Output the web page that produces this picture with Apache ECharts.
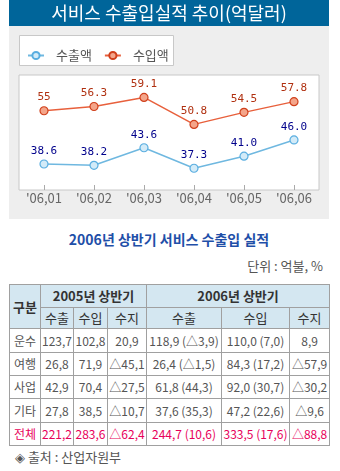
<!DOCTYPE html>
<html>
<head>
<meta charset="utf-8">
<script src="https://cdn.jsdelivr.net/npm/echarts@6/dist/echarts.min.js"></script>
<style>
html,body{margin:0;padding:0;background:#fff;width:340px;height:471px;overflow:hidden;font-family:"Noto Sans CJK KR","Noto Sans",sans-serif;}
#chart{position:absolute;left:0;top:0;width:340px;height:220px;}
#sub{position:absolute;left:0;top:229px;width:338px;text-align:center;font-size:14px;font-weight:bold;color:#1f4fa8;line-height:20px;}
#unit{position:absolute;right:17px;top:257px;font-size:13px;color:#555;line-height:18px;}
table{position:absolute;left:9px;top:284px;width:320px;border-collapse:collapse;table-layout:fixed;font-size:12px;color:#555;}
td,th{border:1px solid #a0a0a0;padding:0;text-align:center;white-space:nowrap;overflow:hidden;line-height:16px;}
th{background:#d4e7f1;color:#333;font-weight:normal;font-size:13px;}
th.b{font-weight:bold;}
tr.tot td{color:#e8005a;}
#src{position:absolute;left:15px;top:448px;font-size:13px;color:#555;line-height:18px;}
</style>
</head>
<body>
<div id="chart"></div>
<div id="sub"></div>
<div id="unit"></div>
<table id="tbl"></table>
<div id="src"></div>
<script>
var chartTitle = '서비스 수출입실적 추이(억달러)';
var categories = ["'06,01", "'06,02", "'06,03", "'06,04", "'06,05", "'06,06"];
var seriesNames = ['수출액', '수입액'];
var exportVals = [38.6, 38.2, 43.6, 37.3, 41.0, 46.0];
var importVals = [55, 56.3, 59.1, 50.8, 54.5, 57.8];
var exportLabels = ['38.6', '38.2', '43.6', '37.3', '41.0', '46.0'];
var importLabels = ['55', '56.3', '59.1', '50.8', '54.5', '57.8'];

var tableTitle = '2006년 상반기 서비스 수출입 실적';
var unitText = '단위 : 억불, %';
var sourceText = '◈ 출처 : 산업자원부';
var headGroup = ['구분', '2005년 상반기', '2006년 상반기'];
var headCols = ['수출', '수입', '수지', '수출', '수입', '수지'];
var rowNames = ['운수', '여행', '사업', '기타', '전체'];
var exp2005 = ['123,7', '26,8', '42,9', '27,8', '221,2'];
var imp2005 = ['102,8', '71,9', '70,4', '38,5', '283,6'];
var bal2005 = ['20,9', '△45,1', '△27,5', '△10,7', '△62,4'];
var exp2006 = ['118,9 (△3,9)', '26,4 (△1,5)', '61,8 (44,3)', '37,6 (35,3)', '244,7 (10,6)'];
var imp2006 = ['110,0 (7,0)', '84,3 (17,2)', '92,0 (30,7)', '47,2 (22,6)', '333,5 (17,6)'];
var bal2006 = ['8,9', '△57,9', '△30,2', '△9,6', '△88,8'];

document.getElementById('sub').textContent = tableTitle;
document.getElementById('unit').textContent = unitText;
document.getElementById('src').textContent = sourceText;

var colW = [31, 33, 34, 39, 75, 68, 40];
var rowH = [23, 21, 24, 23, 23, 24, 23];
var html = '<colgroup>' + colW.map(function(w){return '<col style="width:' + w + 'px">';}).join('') + '</colgroup>';
html += '<tr style="height:' + rowH[0] + 'px"><th class="b" rowspan="2">' + headGroup[0] + '</th><th class="b" colspan="3">' + headGroup[1] + '</th><th class="b" colspan="3">' + headGroup[2] + '</th></tr>';
html += '<tr style="height:' + rowH[1] + 'px">' + headCols.map(function(c){return '<th>' + c + '</th>';}).join('') + '</tr>';
for (var i = 0; i < rowNames.length; i++) {
  html += '<tr' + (i === rowNames.length - 1 ? ' class="tot"' : '') + ' style="height:' + rowH[i + 2] + 'px"><td>' + rowNames[i] + '</td><td>' + exp2005[i] + '</td><td>' + imp2005[i] + '</td><td>' + bal2005[i] + '</td><td>' + exp2006[i] + '</td><td>' + imp2006[i] + '</td><td>' + bal2006[i] + '</td></tr>';
}
document.getElementById('tbl').innerHTML = html;

var chart = echarts.init(document.getElementById('chart'), null, {renderer: 'canvas'});
var labelFont = {fontFamily: 'DejaVu Sans Mono', fontSize: 11};
chart.setOption({
  animation: false,
  backgroundColor: 'transparent',
  graphic: [
    {type: 'rect', shape: {x: 9, y: 0, width: 320, height: 219}, style: {fill: '#eeeeee'}, z: -10},
    {type: 'rect', shape: {x: 9, y: 0, width: 320, height: 26}, style: {fill: '#00659a'}, z: -9},
    {type: 'text', x: 169, y: 13, style: {text: chartTitle, fill: '#ffffff', font: '18px "Noto Sans CJK KR"', align: 'center', verticalAlign: 'middle'}, z: 10},
    {type: 'rect', shape: {x: 19.5, y: 35.5, width: 154, height: 30}, style: {fill: '#ffffff', stroke: '#c8c8c8', lineWidth: 1}, z: -8}
  ],
  legend: {
    left: 22, top: 44,
    itemWidth: 16, itemHeight: 9, itemGap: 12,
    textStyle: {color: '#555', fontSize: 13, fontFamily: 'Noto Sans CJK KR', padding: [0, 0, 0, 7]},
    data: seriesNames
  },
  grid: {left: 19, top: 75, width: 300, height: 115, show: true, backgroundColor: '#ffffff', borderColor: '#c8c8c8', borderWidth: 1},
  xAxis: {
    type: 'category', data: categories, boundaryGap: true,
    axisLine: {show: false},
    axisTick: {show: true, inside: true, length: 5, alignWithLabel: true, lineStyle: {color: '#aaa'}},
    axisLabel: {color: '#666', fontSize: 13, fontFamily: 'Noto Sans CJK KR', margin: 2}
  },
  yAxis: {type: 'value', min: 30.6, max: 66, show: false, splitLine: {show: false}},
  series: [
    {
      name: seriesNames[0], type: 'line', data: exportVals,
      symbol: 'circle', symbolSize: 8,
      lineStyle: {color: '#6fb8e0', width: 1.5},
      itemStyle: {color: '#d3ebf8', borderColor: '#5aaee0', borderWidth: 1.2},
      label: {show: true, position: 'top', distance: 3, color: '#00008b', fontFamily: labelFont.fontFamily, fontSize: labelFont.fontSize,
        formatter: function(p){return exportLabels[p.dataIndex];}}
    },
    {
      name: seriesNames[1], type: 'line', data: importVals,
      symbol: 'circle', symbolSize: 8,
      lineStyle: {color: '#e8603c', width: 1.5},
      itemStyle: {color: '#f4a58a', borderColor: '#d0401c', borderWidth: 1.2},
      label: {show: true, position: 'top', distance: 3, color: '#b03010', fontFamily: labelFont.fontFamily, fontSize: labelFont.fontSize,
        formatter: function(p){return importLabels[p.dataIndex];}}
    }
  ]
});
</script>
</body>
</html>
